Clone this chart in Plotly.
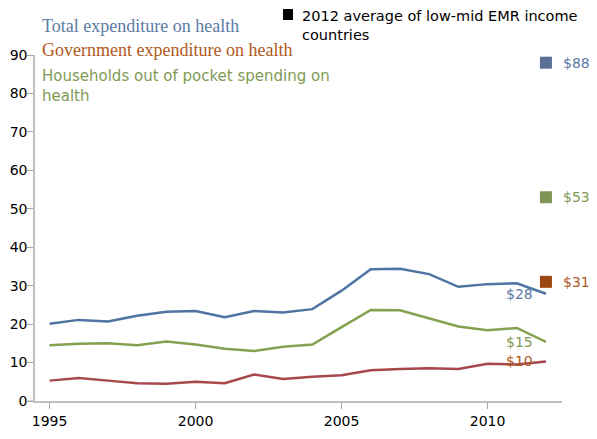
import plotly.graph_objects as go

years = list(range(1995, 2013))
total = [20.1, 21.1, 20.7, 22.2, 23.2, 23.4, 21.8, 23.4, 23.0, 23.9,
         28.7, 34.3, 34.4, 33.0, 29.7, 30.4, 30.6, 27.9]
households = [14.5, 14.9, 15.0, 14.5, 15.5, 14.7, 13.6, 13.0, 14.1, 14.7,
              19.2, 23.7, 23.6, 21.5, 19.4, 18.4, 19.0, 15.4]
government = [5.3, 6.0, 5.3, 4.6, 4.5, 5.0, 4.6, 6.9, 5.7, 6.3,
              6.7, 8.0, 8.3, 8.5, 8.3, 9.7, 9.5, 10.3]

avg_year = 2012
avg_values = [88, 53, 31]
avg_labels = ["$88", "$53", "$31"]
end_labels = ["$28", "$15", "$10"]
end_values = [27.8, 15.3, 10.4]

BLUE_LINE = "#4f74a2"
GREEN_LINE = "#84a14f"
RED_LINE = "#a6494c"
BLUE_TXT = "#5b7ba5"
GREEN_TXT = "#7f9a55"
ORANGE_TXT = "#b0591c"
SQ_COLORS = ["#5a6f95", "#7f9455", "#9a4a10"]
SQ_TXT = [BLUE_TXT, GREEN_TXT, ORANGE_TXT]

fig = go.Figure()
fig.add_trace(go.Scatter(x=years, y=total, mode="lines",
                         line=dict(color=BLUE_LINE, width=2.5), hoverinfo="skip"))
fig.add_trace(go.Scatter(x=years, y=households, mode="lines",
                         line=dict(color=GREEN_LINE, width=2.5), hoverinfo="skip"))
fig.add_trace(go.Scatter(x=years, y=government, mode="lines",
                         line=dict(color=RED_LINE, width=2.5), hoverinfo="skip"))
fig.add_trace(go.Scatter(x=[avg_year] * 3, y=avg_values, mode="markers",
                         marker=dict(symbol="square", size=12, color=SQ_COLORS),
                         hoverinfo="skip", cliponaxis=False))

annotations = []
for v, lab, c in zip(avg_values, avg_labels, SQ_TXT):
    annotations.append(dict(x=avg_year, y=v, xref="x", yref="y", text=lab,
                            showarrow=False, xanchor="left", xshift=15,
                            font=dict(family="DejaVu Sans", size=14, color=c)))
for v, lab, c in zip(end_values, end_labels, [BLUE_TXT, GREEN_TXT, ORANGE_TXT]):
    annotations.append(dict(x=2011.1, y=v, xref="x", yref="y", text=lab,
                            showarrow=False, xanchor="center",
                            font=dict(family="DejaVu Sans", size=14, color=c)))

annotations += [
    dict(x=0.0095, y=1.0838, xref="paper", yref="paper", xanchor="left", yanchor="middle",
         text="Total expenditure on health", showarrow=False,
         font=dict(family="Liberation Serif", size=18, color=BLUE_TXT)),
    dict(x=0.0095, y=1.0145, xref="paper", yref="paper", xanchor="left", yanchor="middle",
         text="Government expenditure on health", showarrow=False,
         font=dict(family="Liberation Serif", size=18, color=ORANGE_TXT)),
    dict(x=0.0095, y=0.9104, xref="paper", yref="paper", xanchor="left", yanchor="middle",
         align="left", text="Households out of pocket spending on<br>health", showarrow=False,
         font=dict(family="DejaVu Sans", size=15, color=GREEN_TXT)),
    dict(x=0.5028, y=1.0867, xref="paper", yref="paper", xanchor="left", yanchor="middle",
         align="left", text="2012 average of low-mid EMR income<br>countries", showarrow=False,
         font=dict(family="DejaVu Sans", size=14.5, color="#000000")),
]

shapes = [
    dict(type="rect", xref="paper", yref="paper", x0=0.4706, x1=0.4896, y0=1.1012, y1=1.1329,
         fillcolor="#000000", line=dict(width=0)),
    dict(type="line", xref="paper", yref="y", xsizemode="pixel", xanchor=0,
         x0=-7, x1=0, y0=0, y1=0, line=dict(color="#bfbfbf", width=1.5)),
]

fig.update_layout(
    width=597, height=439,
    margin=dict(l=27, r=43, t=47, b=46),
    paper_bgcolor="white", plot_bgcolor="white",
    showlegend=False,
    annotations=annotations,
    shapes=shapes,
    xaxis=dict(range=[1994.5, 2012.55], tickmode="array", tickvals=[1995, 2000, 2005, 2010],
               automargin=False,
               showgrid=False, zeroline=False, showline=True, linecolor="#bfbfbf", linewidth=1.5,
               ticks="outside", ticklen=6, tickcolor="#a6a6a6",
               tickfont=dict(family="DejaVu Sans", size=14, color="#000000")),
    yaxis=dict(range=[0, 90], dtick=10, showgrid=False, zeroline=False, showline=True,
               automargin=False,
               linecolor="#bfbfbf", linewidth=1.5, ticks="outside", ticklen=6, tickcolor="#a6a6a6",
               ticklabelstandoff=-3,
               tickfont=dict(family="DejaVu Sans", size=14, color="#000000")),
    xaxis2=dict(overlaying="x", matches="x", range=[1994.5, 2012.55], side="bottom",
                automargin=False,
                tickmode="array", tickvals=[1995, 2000, 2005, 2010], showticklabels=False,
                ticks="inside", ticklen=6, tickcolor="#a6a6a6", showgrid=False, zeroline=False),
    yaxis2=dict(overlaying="y", matches="y", range=[0, 90], dtick=10, side="left",
                automargin=False,
                showticklabels=False, ticks="inside", ticklen=5, tickcolor="#a6a6a6",
                showgrid=False, zeroline=False),
)

fig.write_html("out.html")
